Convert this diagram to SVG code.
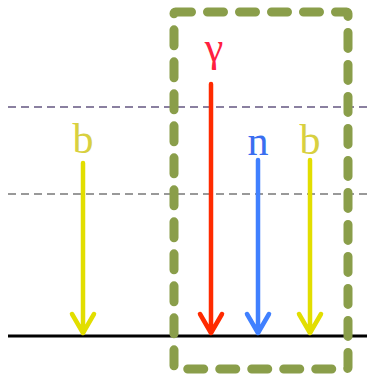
<svg xmlns="http://www.w3.org/2000/svg" width="367" height="379" viewBox="0 0 367 379">
<style>
.lbl{font-family:"Liberation Serif","DejaVu Serif",serif;font-size:42px;text-anchor:middle}
.arr{fill:none;stroke-width:4.5;stroke-linecap:round;stroke-linejoin:round}
</style>
<rect width="367" height="379" fill="#fff"/>
<g id="levels">
<line x1="8" y1="107" x2="367" y2="107" stroke="#8a80a0" stroke-width="2" stroke-dasharray="8 5"/>
<line x1="8" y1="194" x2="367" y2="194" stroke="#999" stroke-width="2" stroke-dasharray="8 5"/>
<line x1="8" y1="336" x2="367" y2="336" stroke="#000" stroke-width="3"/>
</g>
<g id="box">
<rect x="174" y="12" width="174" height="357" rx="1.5" fill="none" stroke="#8a9e4a" stroke-width="9" stroke-linecap="round" stroke-dasharray="16 16"/>
</g>
<g id="connectors">
<path class="arr" stroke="#e2de00" d="M83 163V333M72 314L83 333L94 314"/>
<path class="arr" stroke="#ff2a00" d="M211 84V333M200 314L211 333L222 314"/>
<path class="arr" stroke="#4080ff" d="M258 160V333M247 314L258 333L269 314"/>
<path class="arr" stroke="#e2de00" d="M310 160V333M299 314L310 333L321 314"/>
</g>
<g id="b1"><text class="lbl" x="83" y="153" fill="#d8d040">b</text></g>
<g id="gamma"><text class="lbl" x="214" y="61" fill="#ff2040" font-size="38">γ</text></g>
<g id="n"><text class="lbl" x="258" y="155" fill="#3a6ef0">n</text></g>
<g id="b2"><text class="lbl" x="310" y="154" fill="#d8d040">b</text></g>
</svg>
